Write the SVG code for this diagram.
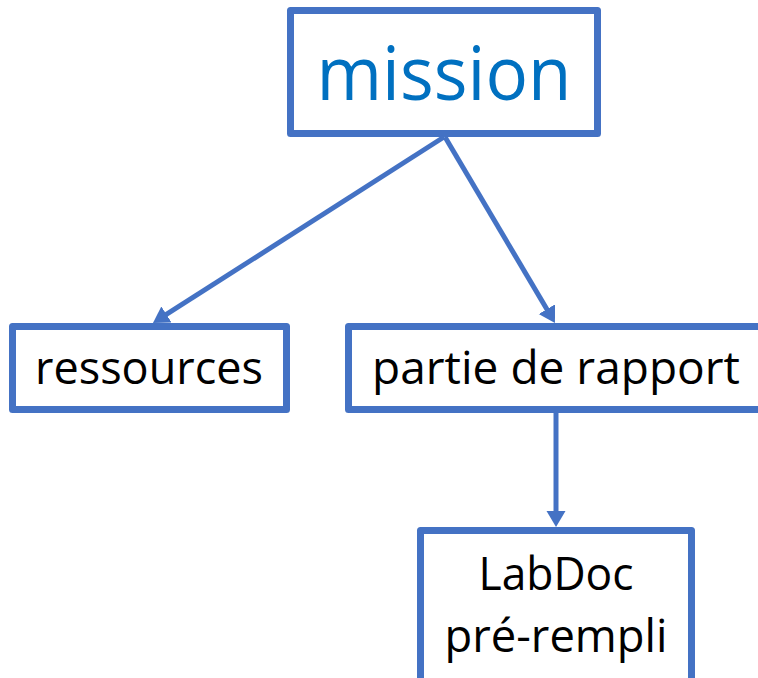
<svg xmlns="http://www.w3.org/2000/svg" width="758" height="678" viewBox="0 0 758 678">
<defs>
<style>
.box{fill:#fff;stroke:#4472C4;stroke-width:7;stroke-linejoin:round}
.edge{fill:none;stroke:#4472C4;stroke-width:5}
.t{font-family:"Open Sans","Liberation Sans",sans-serif;fill:#000;text-anchor:middle}
</style>
<marker id="arr" markerUnits="userSpaceOnUse" markerWidth="20" markerHeight="20" refX="8" refY="9.5" orient="auto" viewBox="0 0 20 20">
<path d="M0,0 L16,9.5 L0,19 Z" fill="#4472C4"/>
</marker>
</defs>
<g id="mission">
<rect class="box" x="290.5" y="10.5" width="307" height="123"/>
<text class="t" x="444" y="100" font-size="75" style="fill:#0070C0" textLength="255" lengthAdjust="spacingAndGlyphs">mission</text>
</g>
<g id="ressources">
<rect class="box" x="12.5" y="326.5" width="274" height="83"/>
<text class="t" x="149" y="384" font-size="45" textLength="228" lengthAdjust="spacingAndGlyphs">ressources</text>
</g>
<g id="partie">
<rect class="box" x="348.5" y="326.5" width="430" height="83"/>
<text class="t" x="556" y="384" font-size="45" textLength="368" lengthAdjust="spacingAndGlyphs">partie de rapport</text>
</g>
<g id="labdoc">
<rect class="box" x="420.5" y="530.5" width="271" height="170"/>
<text class="t" x="556" y="590" font-size="45" textLength="155" lengthAdjust="spacingAndGlyphs">LabDoc</text>
<text class="t" x="556" y="652" font-size="45" textLength="223" lengthAdjust="spacingAndGlyphs">pré-rempli</text>
</g>
<g id="connectors">
<line class="edge" x1="444" y1="137" x2="159.7" y2="318.7" marker-end="url(#arr)"/>
<line class="edge" x1="445" y1="137" x2="550.9" y2="316.1" marker-end="url(#arr)"/>
<line class="edge" x1="556" y1="413" x2="556" y2="519" marker-end="url(#arr)"/>
</g>
</svg>
